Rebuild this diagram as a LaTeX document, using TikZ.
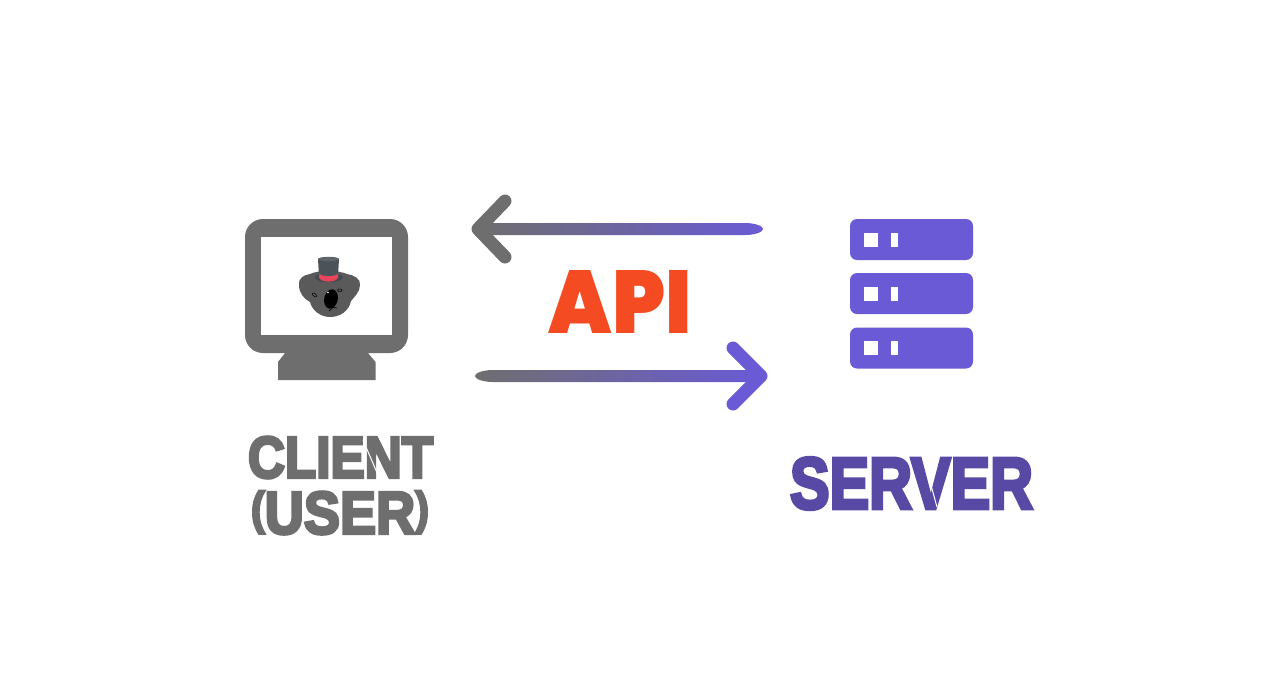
\documentclass[tikz,border=0pt]{standalone}
\usepackage{graphicx}
\usepackage{fontspec}
\newfontfamily\heavybase{Liberation Sans}[BoldFeatures={FakeBold=5}]
\newcommand{\heavy}{\heavybase\bfseries}
\newfontfamily\bolder{Poppins}[UprightFont=* Black]
\usetikzlibrary{calc}
\definecolor{cgray}{HTML}{6E6E6E}
\definecolor{cviolet}{HTML}{6A5AD6}
\definecolor{cdeep}{HTML}{5849A5}
\definecolor{capi}{HTML}{F44B22}
\definecolor{khead}{HTML}{5A5A5A}
\definecolor{khat}{HTML}{4B5359}
\definecolor{kband}{HTML}{E8455A}
\newcommand{\tallglyph}[1]{\raisebox{\depth}{\resizebox*{!}{1.04\fontcharht\font`U}{#1}}}
\tikzset{
  x=1pt,y=-1pt,
  lab/.style={inner sep=0pt,outer sep=0pt},
  srvbar/.style={fill=cviolet,rounded corners=7pt,minimum width=123pt,minimum height=41pt,inner sep=0pt,outer sep=0pt},
  led/.style={fill=white,inner sep=0pt,outer sep=0pt},
  headstroke/.style={line width=13pt,line cap=round,line join=round},
  slit/.style={white,line width=1pt},
}
\begin{document}
\begin{tikzpicture}
\useasboundingbox (0,0) rectangle (1280,691);
\fill[white] (0,0) rectangle (1280,691);
% monitor
\fill[cgray] (285,345) -- (368,345) -- (368,353) -- (375.5,362) -- (375.5,380) -- (278,380) -- (278,362) -- (285,353) -- cycle;
\node (monitor) [fill=cgray,rounded corners=18pt,minimum width=163pt,minimum height=134pt,inner sep=0pt,outer sep=0pt] at (326.5,286) {};
\node (screen) [fill=white,minimum width=131pt,minimum height=98pt,inner sep=0pt,outer sep=0pt] at (326.5,286) {};
% koala
\fill[khead] (299,285) .. controls (298,279) and (303,275) .. (310,274) .. controls (318,270) and (338,270) .. (347,274) .. controls (354,275) and (361,279) .. (360,285) .. controls (360,292) and (354,297) .. (351,301) .. controls (349,311) and (340,317) .. (330,317) .. controls (320,317) and (312,310) .. (310,302) .. controls (304,299) and (299,293) .. (299,285) -- cycle;
\fill[khat!90!black] (315,277) .. controls (315,272) and (342,272) .. (343,277) .. controls (343,284) and (315,284) .. (315,277) -- cycle;
\fill[khat] (318,259) -- (339,259) -- (338,276) -- (319,276) -- cycle;
\fill[khat!90!white] (328.5,259) ellipse (10.5 and 2.2);
\fill[kband] (319,274) .. controls (324,277) and (333,277) .. (338,274) -- (338,277.5) .. controls (336,283) and (321,283) .. (319,277.5) -- cycle;
\fill[black,rotate around={-12:(331,299)}] (331,299) ellipse (6.8 and 9.8);
\fill[white] (328,292.5) circle (0.8);
\draw[black,line width=.5pt,rounded corners=1pt,rotate around={-38:(314.5,295)}] (312,293.8) rectangle (317,296.2);
\draw[black,line width=.5pt,rounded corners=1pt] (337.5,289) rectangle (342,291.5);
\draw[black,line width=.7pt] (329,311) -- (333,307.5) -- (337,308);
% arrows
\coordinate (topEnd) at (763,229);
\coordinate (topTip) at (473,229);
\coordinate (botEnd) at (475,376);
\coordinate (botTip) at (767,376);
\shade[left color=cgray,right color=cviolet]
  (topEnd) .. controls +(0,-3) and +(10,0) .. ($(topEnd)+(-18,-6)$) -- ($(topTip)+(8,-6)$) -- ($(topTip)+(8,6)$) -- ($(topEnd)+(-18,6)$) .. controls +(10,0) and +(0,3) .. (topEnd) -- cycle;
\draw[cgray,headstroke] ($(topTip)+(32,-28)$) -- ($(topTip)+(5,0)$) -- ($(topTip)+(32,28)$);
\shade[left color=cgray,right color=cviolet]
  (botEnd) .. controls +(0,-3) and +(-10,0) .. ($(botEnd)+(18,-6)$) -- ($(botTip)+(-8,-6)$) -- ($(botTip)+(-8,6)$) -- ($(botEnd)+(18,6)$) .. controls +(-10,0) and +(0,3) .. (botEnd) -- cycle;
\draw[cviolet,headstroke] ($(botTip)+(-34,-28)$) -- ($(botTip)+(-6,0)$) -- ($(botTip)+(-34,28)$);
% server
\node (srvA) [srvbar] at (911.5,239.5) {};
\node (srvB) [srvbar] at (911.5,293.5) {};
\node (srvC) [srvbar] at (911.5,348) {};
\foreach \n in {A,B,C}{
  \node (sq\n) [led,minimum width=14pt,minimum height=14pt] at ($(srv\n.west)+(20.5,0)$) {};
  \node (bar\n) [led,minimum width=7pt,minimum height=14pt] at ($(srv\n.west)+(44.5,0)$) {};
}
% labels
\node (api) [lab,text=capi] at (620.5,301.5) {\resizebox{143pt}{63pt}{\bolder API}};
\node (client) [lab,text=cgray] at (340.5,457.5) {\resizebox{185pt}{41pt}{\heavy CLIENT}};
\node (user) [lab,text=cgray] at (340,512.5) {\resizebox{178pt}{43pt}{\heavy\tallglyph{(}USER\tallglyph{)}}};
\node (server) [lab,text=cdeep] at (911.5,483.5) {\resizebox{243pt}{51pt}{\heavy SERVER}};
\draw[slit] (363,440) -- (378,475);
\draw[slit] (929,478) -- (937,507);
\end{tikzpicture}
\end{document}
